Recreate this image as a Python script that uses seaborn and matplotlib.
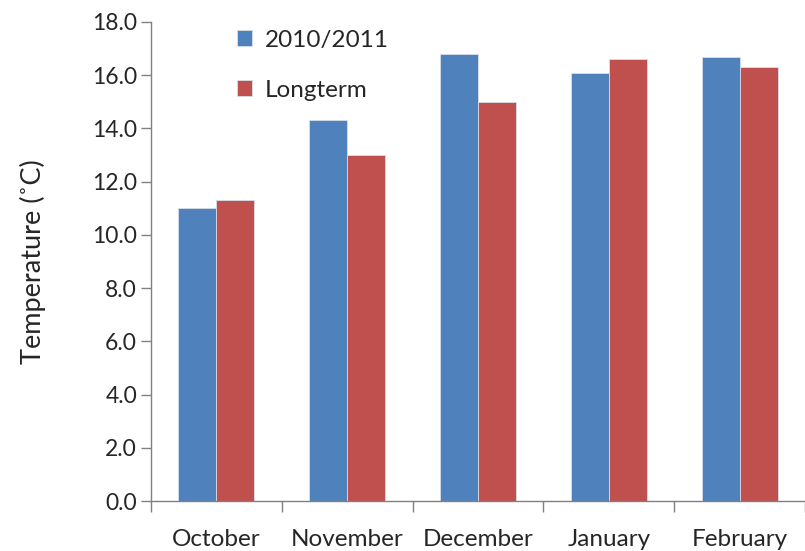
import matplotlib
matplotlib.use("Agg")
import matplotlib.pyplot as plt
import seaborn as sns
import pandas as pd
import numpy as np
from matplotlib.ticker import FixedLocator, FormatStrFormatter

months = ["October", "November", "December", "January", "February"]
season_2010 = [11.0, 14.3, 16.8, 16.1, 16.7]
longterm = [11.3, 13.0, 15.0, 16.6, 16.3]
series_names = ["2010/2011", "Longterm"]
colors = ["#4F81BD", "#C0504D"]

df = pd.DataFrame({
    "Month": months * 2,
    "Series": [series_names[0]] * len(months) + [series_names[1]] * len(months),
    "Value": season_2010 + longterm,
})

sns.set_style("white")
plt.rcParams["font.family"] = ["Lato", "DejaVu Sans"]

fig = plt.figure(figsize=(8.05, 5.51), dpi=100)
ax = fig.add_axes([151 / 805, 50 / 551, (805 - 151) / 805, (501 - 22) / 551])

sns.barplot(data=df, x="Month", y="Value", hue="Series", palette=colors,
            width=0.58, ax=ax, saturation=1, edgecolor="#D8DEE8", linewidth=0.6)

ax.set_xlim(-0.5, 4.5)
ax.set_ylim(0, 18)
ax.yaxis.set_major_locator(FixedLocator(np.arange(0, 18.1, 2)))
ax.yaxis.set_major_formatter(FormatStrFormatter("%.1f"))
ax.xaxis.set_minor_locator(FixedLocator(np.arange(-0.5, 4.6, 1)))
ax.tick_params(axis="x", which="major", length=0, pad=20, labelsize=17.5)
ax.tick_params(axis="x", which="minor", length=8, width=1, color="#808080", direction="out", bottom=True)
ax.tick_params(axis="y", length=7, width=1, color="#808080", direction="out", left=True, labelsize=16.5, pad=3)

for s in ["top", "right"]:
    ax.spines[s].set_visible(False)
for s in ["left", "bottom"]:
    ax.spines[s].set_color("#808080")
    ax.spines[s].set_linewidth(1)

ax.set_xlabel("")
ax.set_ylabel("Temperature (\u02daC)", fontsize=19.5, labelpad=33)

leg = ax.legend(loc="upper left", bbox_to_anchor=(0.098, 1.03), frameon=False,
                fontsize=17.5, handlelength=0.6, handleheight=0.6, labelspacing=1.2,
                handletextpad=0.55)

fig.savefig("out.png", dpi=100)
